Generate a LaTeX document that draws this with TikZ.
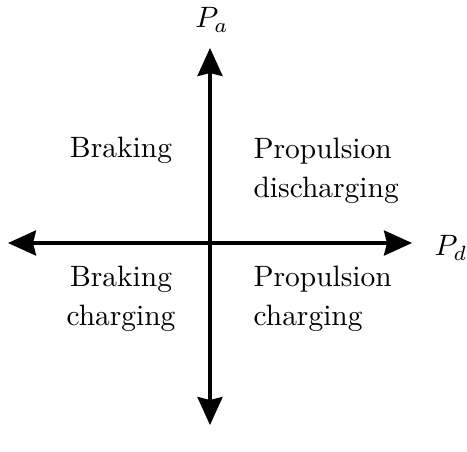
\documentclass[tikz,border=0pt]{standalone}
\usetikzlibrary{arrows.meta}
\begin{document}
\begin{tikzpicture}[x=0.3394pt,y=-0.3394pt,
  tip/.tip={Stealth[length=9.5pt,width=8.5pt,inset=1pt]},
  axis/.style={line width=1.1pt,tip-tip},
  quad/.style={inner sep=0pt,font={\fontsize{10}{13.3}\selectfont}}]
\useasboundingbox (0,0) rectangle (467,451);
\coordinate (top) at (210,48);
\coordinate (bot) at (210,425);
\coordinate (lft) at (8,243);
\coordinate (rgt) at (412,243);
\draw[axis] (bot) -- (top);
\draw[axis] (lft) -- (rgt);
\node[inner sep=0pt] (pa) at (212,20) {$P_a$};
\node[inner sep=0pt] (pd) at (451,248) {$P_d$};
\node[quad,align=center] (br) at (121,150) {Braking};
\node[quad,align=left,anchor=west] (pdis) at (253,171) {Propulsion\\discharging};
\node[quad,align=center] (bch) at (121,299) {Braking\\charging};
\node[quad,align=left,anchor=west] (pch) at (253,299) {Propulsion\\charging};
\end{tikzpicture}
\end{document}
